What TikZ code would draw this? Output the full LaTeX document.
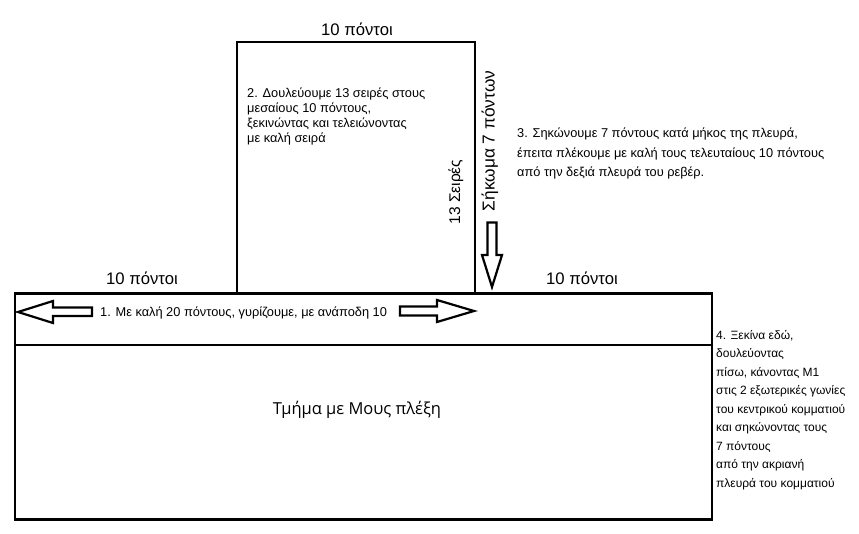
\documentclass[tikz,border=0pt]{standalone}
\usepackage{fontspec}
\setmainfont{Liberation Sans}
\newfontfamily\opensans{Open Sans}
\begin{document}
\begin{tikzpicture}[x=1pt,y=-1pt,
  frame/.style={line width=2.6pt},
  blockarrow/.style={line width=2.2pt, line join=miter},
  lbl/.style={inner sep=0pt, font=\fontsize{16.7}{19}\selectfont},
  note/.style={inner sep=0pt, align=left, anchor=base west},
  rot/.style={inner sep=0pt, rotate=90}]
\useasboundingbox (0,0) rectangle (859,534);
% shapes
\draw[frame] (15,293.5) rectangle (712,519.5);
\draw[frame] (15,345) -- (712,345);
\draw[frame] (237,293.5) -- (237,42) -- (475,42) -- (475,293.5);
% block arrows
\draw[blockarrow] (18,312) -- (53,301) -- (53,307.5) -- (92,307.5) -- (92,316) -- (53,316) -- (53,323) -- cycle;
\draw[blockarrow] (474,311) -- (437,300) -- (437,306.5) -- (400,306.5) -- (400,315.5) -- (437,315.5) -- (437,322) -- cycle;
\draw[blockarrow] (492,287) -- (482,255) -- (487.5,255) -- (487.5,222.5) -- (496.5,222.5) -- (496.5,255) -- (502,255) -- cycle;
% labels
\node[lbl, anchor=base] (ttop) at (357,36) {10 πόντοι};
\node[lbl, anchor=base] (tleft) at (142,285) {10 πόντοι};
\node[lbl, anchor=base] (tright) at (582,285) {10 πόντοι};
\node[note, font=\fontsize{12.8}{15}\selectfont] (n1) at (100,317) {1. Με καλή 20 πόντους, γυρίζουμε, με ανάποδη 10};
\node[note, font=\fontsize{12.8}{15}\selectfont] (n2) at (247,143) {2. Δουλεύουμε 13 σειρές στους\\μεσαίους 10 πόντους,\\ξεκινώντας και τελειώνοντας\\με καλή σειρά};
\node[note, font=\fontsize{12.8}{19.5}\selectfont] (n3) at (517,177) {3. Σηκώνουμε 7 πόντους κατά μήκος της πλευρά,\\έπειτα πλέκουμε με καλή τους τελευταίους 10 πόντους\\από την δεξιά πλευρά του ρεβέρ.};
\node[note, font=\fontsize{12}{18.5}\selectfont] (n4) at (716,487) {4. Ξεκίνα εδώ,\\δουλεύοντας\\πίσω, κάνοντας Μ1\\στις 2 εξωτερικές γωνίες\\του κεντρικού κομματιού\\και σηκώνοντας τους\\7 πόντους\\από την ακριανή\\πλευρά του κομματιού};
\node[inner sep=0pt, anchor=base, font=\opensans\fontsize{16.5}{18}\selectfont] (body) at (357,414) {Τμήμα με Μους πλέξη};
\node[rot, font=\fontsize{15.5}{18}\selectfont] (rows) at (456,192) {13 Σειρές};
\node[rot, font=\fontsize{17.3}{21}\selectfont] (pick) at (490,141) {Σήκωμα 7 πόντων};
\end{tikzpicture}
\end{document}
